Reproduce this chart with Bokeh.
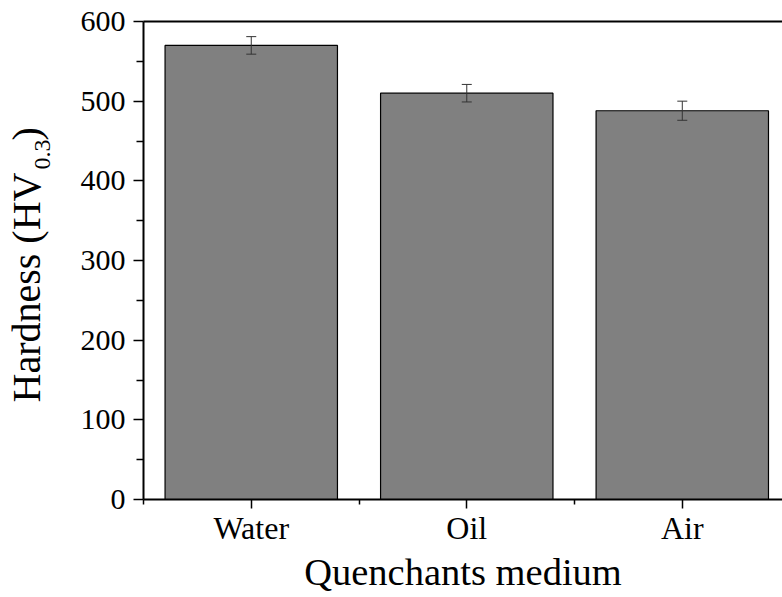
import math
from bokeh.plotting import figure
from bokeh.layouts import row
from bokeh.models import (ColumnDataSource, Whisker, TeeHead, FixedTicker,
                          LinearAxis, Range1d)
from bokeh.core.properties import value
from bokeh.embed import file_html
from bokeh.resources import INLINE

categories = ["Water", "Oil", "Air"]
hardness = [570, 510, 488]
errors = [11, 11, 12]
y_ticks = [0, 100, 200, 300, 400, 500, 600]

xs = list(range(1, len(categories) + 1))
src = ColumnDataSource(dict(
    x=xs, top=hardness,
    upper=[h + e for h, e in zip(hardness, errors)],
    lower=[h - e for h, e in zip(hardness, errors)],
))

FONT = "Liberation Serif"
W, H = 782, 597
TOP, BOTTOM = 21, 98
LW = 70  # width of the strip holding the y-axis title

# ---- strip with the rotated y-axis title (pixel coordinates) ----
lab = figure(width=LW, height=H, output_backend="svg", toolbar_location=None,
             x_range=Range1d(0, LW), y_range=Range1d(H - BOTTOM, TOP),
             x_axis_type=None, y_axis_type=None,
             min_border_left=0, min_border_right=0,
             min_border_top=TOP, min_border_bottom=BOTTOM)
lab.outline_line_color = None
lab.grid.visible = False
lab.background_fill_color = "white"
lab.border_fill_color = "white"
ang = math.pi / 2
lab.text(x=[26], y=[402], text=["Hardness (HV"], angle=ang,
         text_align="left", text_baseline="alphabetic",
         text_font=value(FONT), text_font_size="40px", text_color="black")
lab.text(x=[42], y=[169], text=["0.3"], angle=ang,
         text_align="left", text_baseline="alphabetic",
         text_font=value(FONT), text_font_size="24px", text_color="black")
lab.text(x=[26], y=[140], text=[")"], angle=ang,
         text_align="left", text_baseline="alphabetic",
         text_font=value(FONT), text_font_size="40px", text_color="black")

# ---- main chart ----
p = figure(width=W - LW, height=H, output_backend="svg", toolbar_location=None,
           x_range=Range1d(0.5, 3.465), y_range=Range1d(0, 600),
           min_border_left=143 - LW, min_border_right=0, min_border_top=TOP,
           min_border_bottom=BOTTOM)
p.background_fill_color = "white"
p.border_fill_color = "white"
p.outline_line_color = None
p.grid.visible = False

p.vbar(x="x", top="top", width=0.8, source=src, fill_color="#808080",
       line_color="black", line_width=1.2)

w = Whisker(base="x", upper="upper", lower="lower", source=src,
            line_color="#333333", line_width=1, level="overlay")
w.upper_head = TeeHead(size=10, line_color="#333333", line_width=1)
w.lower_head = TeeHead(size=10, line_color="#333333", line_width=1)
p.add_layout(w)

# x axis
xa = p.xaxis[0]
xa.ticker = FixedTicker(ticks=xs, minor_ticks=[0.5 + i for i in range(len(xs) + 1)])
xa.major_label_overrides = {x: c for x, c in zip(xs, categories)}
xa.axis_label = "Quenchants medium"
xa.axis_label_text_font = FONT
xa.axis_label_text_font_size = "38.5px"
xa.axis_label_text_font_style = "normal"
xa.axis_label_text_color = "black"
xa.axis_label_standoff = 2
xa.major_label_text_font = FONT
xa.major_label_text_font_size = "32px"
xa.major_label_text_color = "black"
xa.major_label_standoff = 1
xa.axis_line_width = 2
xa.major_tick_line_width = 1.5
xa.minor_tick_line_width = 1.5
xa.major_tick_out = 9
xa.major_tick_in = 0
xa.minor_tick_out = 5
xa.minor_tick_in = 0

# y axis
ya = p.yaxis[0]
ya.ticker = FixedTicker(ticks=y_ticks, minor_ticks=[50 + 100 * i for i in range(6)])
ya.axis_label = None
ya.major_label_text_font = FONT
ya.major_label_text_font_size = "30px"
ya.major_label_text_color = "black"
ya.major_label_standoff = 8
ya.axis_line_width = 2
ya.major_tick_line_width = 1.5
ya.minor_tick_line_width = 1.5
ya.major_tick_out = 10
ya.major_tick_in = 0
ya.minor_tick_out = 7
ya.minor_tick_in = 0

# top frame line
top = LinearAxis(ticker=FixedTicker(ticks=[]), major_label_text_font_size="0px",
                 major_tick_out=0, major_tick_in=0, minor_tick_out=0,
                 minor_tick_in=0, axis_line_width=2)
p.add_layout(top, "above")

layout = row(lab, p, spacing=0)
open("out.html", "w").write(file_html(layout, INLINE))
